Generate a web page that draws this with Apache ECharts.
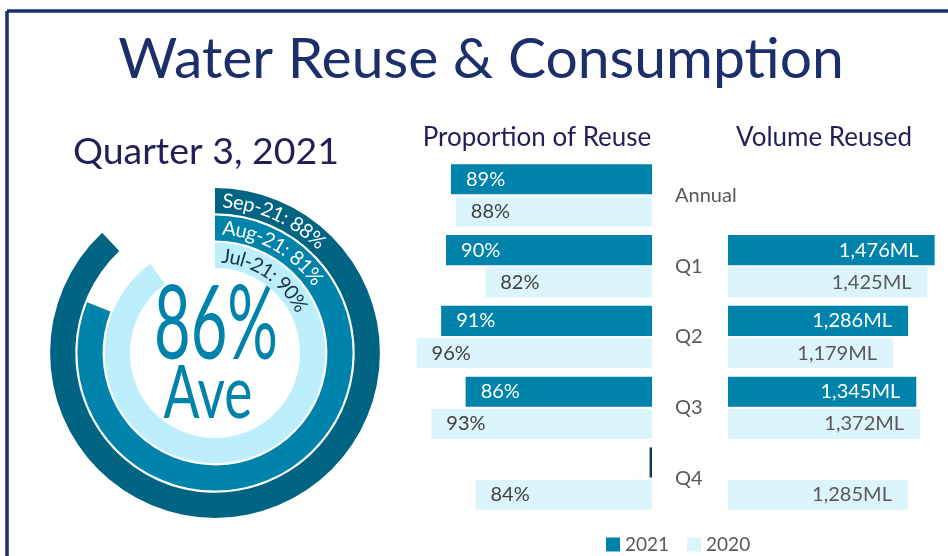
<!DOCTYPE html>
<html>
<head>
<meta charset="utf-8">
<script src="https://cdn.jsdelivr.net/npm/echarts@6/dist/echarts.min.js"></script>
<style>html,body{margin:0;padding:0;background:#fff}#c{width:948px;height:556px}</style>
</head>
<body>
<div id="c"></div>
<script>
// ---- data ----
const months = ['Jul-21', 'Aug-21', 'Sep-21'];
const monthValues = [90, 81, 88];
const periods = ['Annual', 'Q1', 'Q2', 'Q3', 'Q4'];
const reuse2021 = [89, 90, 91, 86, 0];
const reuse2020 = [88, 82, 96, 93, 84];
const volume2021 = [null, 1476, 1286, 1345, null];
const volume2020 = [null, 1425, 1179, 1372, 1285];
const years = ['2021', '2020'];

// ---- style ----
const FONT = 'Lato';
const C21 = '#0083ab', C20 = '#dcf5fc', NAVY = '#1c2f6b', INK = '#211f57';
const ringColors = ['#bdeefc', '#0083ab', '#006482'];
const ringText = ['#183347', '#ffffff', '#ffffff'];
const cx = 215, cy = 353;
const PMIN = 48;

const avg = Math.round(monthValues.reduce((a, b) => a + b, 0) / monthValues.length);

const mctx = document.createElement('canvas').getContext('2d');
function arcText(label, r, a0, a1, size, color) {
  mctx.font = size + 'px ' + FONT;
  const chars = Array.from(label);
  const w = chars.map(c => mctx.measureText(c).width);
  const total = w.reduce((a, b) => a + b, 0);
  const k = (a1 - a0) / total;
  let acc = 0;
  return chars.map((c, i) => {
    const th = a0 + (acc + w[i] / 2) * k;
    acc += w[i];
    return {
      type: 'text', x: cx + r * Math.sin(th), y: cy - r * Math.cos(th), rotation: -th, z: 10,
      style: { text: c, fill: color, font: size + 'px ' + FONT, align: 'center', verticalAlign: 'middle' }
    };
  });
}
const ringMid = [97, 125, 152];
const ringEnd = [64, 56, 45].map(d => d * Math.PI / 180);
const ringStart = [0.07, 0.06, 0.05];
let arcLabels = [];
months.forEach((m, i) => {
  arcLabels = arcLabels.concat(arcText(m + ': ' + monthValues[i] + '%', ringMid[i], ringStart[i], ringEnd[i], 20, ringText[i]));
});

const chart = echarts.init(document.getElementById('c'), null, { renderer: 'canvas' });
chart.setOption({
  animation: false,
  textStyle: { fontFamily: FONT },
  graphic: [
    { type: 'line', shape: { x1: 7, y1: 11, x2: 948, y2: 11 }, style: { stroke: NAVY, lineWidth: 3.5 } },
    { type: 'line', shape: { x1: 7, y1: 11, x2: 7, y2: 556 }, style: { stroke: NAVY, lineWidth: 3.5 } },
    { type: 'text', x: 481, y: 60, style: { text: 'Water Reuse & Consumption', fill: NAVY, font: '57px ' + FONT, align: 'center', verticalAlign: 'middle' } },
    { type: 'text', x: 206, y: 152, style: { text: 'Quarter 3, 2021', fill: INK, font: '37.5px ' + FONT, align: 'center', verticalAlign: 'middle' } },
    { type: 'text', x: 537, y: 138, style: { text: 'Proportion of Reuse', fill: INK, font: '26px ' + FONT, align: 'center', verticalAlign: 'middle' } },
    { type: 'text', x: 824, y: 138, style: { text: 'Volume Reused', fill: INK, font: '26px ' + FONT, align: 'center', verticalAlign: 'middle' } },
    { type: 'text', x: 216, y: 326, scaleX: 0.62, style: { text: avg + '%', fill: C21, font: '102px ' + FONT, align: 'center', verticalAlign: 'middle' } },
    { type: 'text', x: 208, y: 394, scaleX: 0.72, style: { text: 'Ave', fill: C21, font: '74px ' + FONT, align: 'center', verticalAlign: 'middle' } }
  ].concat(arcLabels),
  polar: { center: [cx, cy], radius: [84, 166] },
  angleAxis: { max: 100, startAngle: 90, clockwise: true, show: false },
  radiusAxis: { type: 'category', data: months, show: false },
  legend: {
    data: years, left: 601, top: 530, icon: 'rect', itemWidth: 14, itemHeight: 14, itemGap: 18,
    textStyle: { fontSize: 19, color: '#595959', fontFamily: FONT }
  },
  grid: [
    { left: 397, width: 255, top: 160, bottom: 42 },
    { left: 728, width: 210, top: 160, bottom: 42 }
  ],
  xAxis: [
    { gridIndex: 0, type: 'value', min: PMIN, max: 100, inverse: true, show: false },
    { gridIndex: 1, type: 'value', min: 0, max: 1500, show: false }
  ],
  yAxis: [
    { gridIndex: 0, type: 'category', data: periods, inverse: true, show: false },
    { gridIndex: 1, type: 'category', data: periods, inverse: true,
      axisLine: { show: false }, axisTick: { show: false },
      axisLabel: { align: 'left', margin: 53, fontSize: 20, color: '#595959', fontFamily: FONT } }
  ],
  series: [
    {
      type: 'bar', coordinateSystem: 'polar', barCategoryGap: '8%',
      data: monthValues.map((v, i) => ({ value: v, itemStyle: { color: ringColors[i] } })),
      silent: true
    },
    {
      name: '2021', type: 'bar', xAxisIndex: 0, yAxisIndex: 0, barGap: '7%', barCategoryGap: '12%',
      itemStyle: { color: C21 },
      data: reuse2021.map(v => v > 0 ? v : { value: PMIN + 0.5, itemStyle: { color: '#0d3b52' }, label: { show: false } }),
      label: { show: true, position: 'insideLeft', distance: 15, color: '#fff', fontSize: 20, fontFamily: FONT, formatter: p => p.value + '%' }
    },
    {
      name: '2020', type: 'bar', xAxisIndex: 0, yAxisIndex: 0, barGap: '7%', barCategoryGap: '12%',
      itemStyle: { color: C20 },
      data: reuse2020,
      label: { show: true, position: 'insideLeft', distance: 15, color: '#404040', fontSize: 20, fontFamily: FONT, formatter: p => p.value + '%' }
    },
    {
      name: '2021', type: 'bar', xAxisIndex: 1, yAxisIndex: 1, barGap: '7%', barCategoryGap: '12%',
      itemStyle: { color: C21 },
      data: volume2021,
      label: { show: true, position: 'insideRight', distance: 16, color: '#fff', fontSize: 20, fontFamily: FONT, formatter: p => p.value.toLocaleString('en-US') + 'ML' }
    },
    {
      name: '2020', type: 'bar', xAxisIndex: 1, yAxisIndex: 1, barGap: '7%', barCategoryGap: '12%',
      itemStyle: { color: C20 },
      data: volume2020,
      label: { show: true, position: 'insideRight', distance: 16, color: '#595959', fontSize: 20, fontFamily: FONT, formatter: p => p.value.toLocaleString('en-US') + 'ML' }
    }
  ]
});
</script>
</body>
</html>
